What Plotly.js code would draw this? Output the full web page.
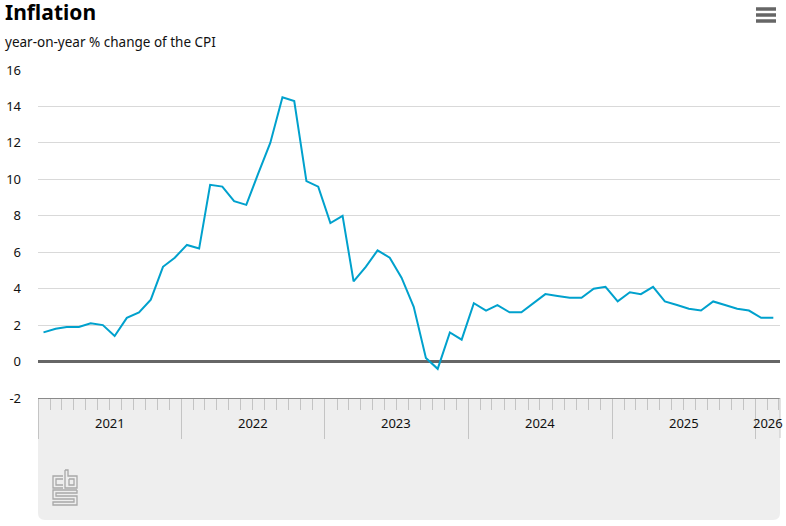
<!DOCTYPE html>
<html>
<head>
<meta charset="utf-8">
<script src="https://cdn.plot.ly/plotly-3.0.1.min.js"></script>
<style>html,body{margin:0;padding:0;background:#fff;}#chart{width:786px;height:526px;}</style>
</head>
<body>
<div id="chart"></div>
<script>
// ---- data ----
const startYear = 2021;
const v2021 = [1.6, 1.8, 1.9, 1.9, 2.1, 2.0, 1.4, 2.4, 2.7, 3.4, 5.2, 5.7];
const v2022 = [6.4, 6.2, 9.7, 9.6, 8.8, 8.6, 10.3, 12.0, 14.5, 14.3, 9.9, 9.6];
const v2023 = [7.6, 8.0, 4.4, 5.2, 6.1, 5.7, 4.6, 3.0, 0.2, -0.4, 1.6, 1.2];
const v2024 = [3.2, 2.8, 3.1, 2.7, 2.7, 3.2, 3.7, 3.6, 3.5, 3.5, 4.0, 4.1];
const v2025 = [3.3, 3.8, 3.7, 4.1, 3.3, 3.1, 2.9, 2.8, 3.3, 3.1, 2.9, 2.8];
const v2026 = [2.4, 2.4];
const yearLabels = ['2021', '2022', '2023', '2024', '2025', '2026'];
const yTicks = [-2, 0, 2, 4, 6, 8, 10, 12, 14, 16];

const title = 'Inflation';
const subtitle = 'year-on-year % change of the CPI';

// ---- build series ----
const yearly = [v2021, v2022, v2023, v2024, v2025, v2026];
const dates = [], values = [];
yearly.forEach((arr, yi) => {
  arr.forEach((v, mi) => {
    const m = String(mi + 1).padStart(2, '0');
    dates.push((startYear + yi) + '-' + m + '-15');
    values.push(v);
  });
});

const xStart = '2021-01-01';
const xEnd = '2026-03-04';

// pixel -> paper helpers (plot area: x 38..780, y 70..398)
const L = 38, R = 780, T = 70, B = 398;
const px = p => (p - L) / (R - L);
const py = p => (B - p) / (B - T);

// year label positions: middle of the visible part of each year
const t0 = Date.parse(xStart), t1 = Date.parse(xEnd);
const yearAnn = yearLabels.map(y => {
  const a = Math.max(Date.parse(y + '-01-01'), t0);
  const b = Math.min(Date.parse((+y + 1) + '-01-01'), t1);
  const mid = new Date((a + b) / 2).toISOString().slice(0, 10);
  return {
    x: mid, xref: 'x', y: py(423), yref: 'paper', text: y, showarrow: false,
    xanchor: 'center', yanchor: 'middle',
    font: {family: 'Noto Sans, sans-serif', size: 13, color: '#111'}
  };
});

// gray navigator box with rounded bottom corners
const bx0 = px(38), bx1 = px(780), by0 = py(398), by1 = py(520);
const rx = 7 / (R - L), ry = 7 / (B - T);
const boxPath = `M ${bx0},${by0} L ${bx1},${by0} L ${bx1},${by1 + ry} Q ${bx1},${by1} ${bx1 - rx},${by1} L ${bx0 + rx},${by1} Q ${bx0},${by1} ${bx0},${by1 + ry} Z`;

const shapes = [
  {type: 'path', xref: 'paper', yref: 'paper', path: boxPath, fillcolor: '#eeeeee', line: {width: 0}, layer: 'below'},
  {type: 'line', xref: 'paper', yref: 'paper', x0: 1, x1: 1, y0: py(398), y1: py(438), line: {color: '#c8c8c8', width: 1}},
];
// hamburger menu
[9, 15, 21].forEach(yy => shapes.push({
  type: 'line', xref: 'paper', yref: 'paper', x0: px(756), x1: px(776), y0: py(yy), y1: py(yy),
  line: {color: '#666', width: 3.5}
}));
// cbs logo (outline)
const logoLine = {color: '#a8a8a8', width: 1.3};
const P = (pts) => 'M ' + pts.map(p => px(p[0]) + ',' + py(p[1])).join(' L ');
shapes.push({type: 'path', xref: 'paper', yref: 'paper', line: logoLine,
  path: P([[63, 476], [53, 476], [53, 488], [63, 488]]) + ' ' + P([[63, 479], [56, 479], [56, 485], [63, 485]])});
shapes.push({type: 'path', xref: 'paper', yref: 'paper', line: logoLine,
  path: P([[65, 470], [68, 470], [68, 476], [77, 476], [77, 488], [65, 488], [65, 470]]) + ' ' + P([[69, 479], [74, 479], [74, 485], [69, 485], [69, 479]])});
shapes.push({type: 'path', xref: 'paper', yref: 'paper', line: logoLine,
  path: P([[77, 490], [53, 490], [53, 499], [74, 499], [74, 502], [53, 502], [53, 505], [77, 505], [77, 496], [56, 496], [56, 493], [77, 493], [77, 490]])});

const trace = {
  x: dates, y: values, type: 'scatter', mode: 'lines',
  line: {color: '#00a1cd', width: 2}, hoverinfo: 'x+y'
};

const layout = {
  width: 786, height: 526,
  margin: {l: L, r: 786 - R, t: T, b: 526 - B, pad: 0},
  paper_bgcolor: '#fff', plot_bgcolor: '#fff',
  showlegend: false,
  font: {family: 'Noto Sans, sans-serif', color: '#111', size: 13},
  title: {
    text: '<b>' + title + '</b>', xref: 'container', yref: 'container',
    x: 5 / 786, xanchor: 'left', y: 1 - 13 / 526, yanchor: 'middle',
    font: {family: 'Noto Sans, sans-serif', size: 21, color: '#000'}, pad: {t: 0, l: 0}
  },
  annotations: [
    {text: subtitle, xref: 'paper', yref: 'paper', x: px(5), y: py(42), xanchor: 'left', yanchor: 'middle',
     xshift: -2, showarrow: false, font: {family: 'Noto Sans, sans-serif', size: 13.5, color: '#111'}}
  ].concat(yearAnn),
  xaxis: {
    type: 'date', range: [xStart, xEnd], fixedrange: true,
    showgrid: false, zeroline: false,
    showline: true, linecolor: '#8a8a8a', linewidth: 1,
    ticks: 'outside', tickmode: 'linear', tick0: '2021-01-01', dtick: 'M12',
    ticklen: 40, tickcolor: '#c4c4c4', tickwidth: 1,
    showticklabels: false,
    minor: {ticks: 'outside', tick0: '2021-01-01', dtick: 'M1', ticklen: 11, tickcolor: '#c4c4c4', tickwidth: 1, showgrid: false}
  },
  yaxis: {
    range: [-2, 16], fixedrange: true,
    tickmode: 'array', tickvals: yTicks, ticktext: yTicks.map(String),
    showgrid: true, gridcolor: '#d9d9d9', gridwidth: 1,
    zeroline: true, zerolinecolor: '#666', zerolinewidth: 3,
    showline: false, ticks: '', ticklabelstandoff: 16,
    tickfont: {family: 'Noto Sans, sans-serif', size: 13, color: '#111'}
  },
  shapes: shapes
};

Plotly.newPlot('chart', [trace], layout, {displayModeBar: false, staticPlot: true});
</script>
</body>
</html>
